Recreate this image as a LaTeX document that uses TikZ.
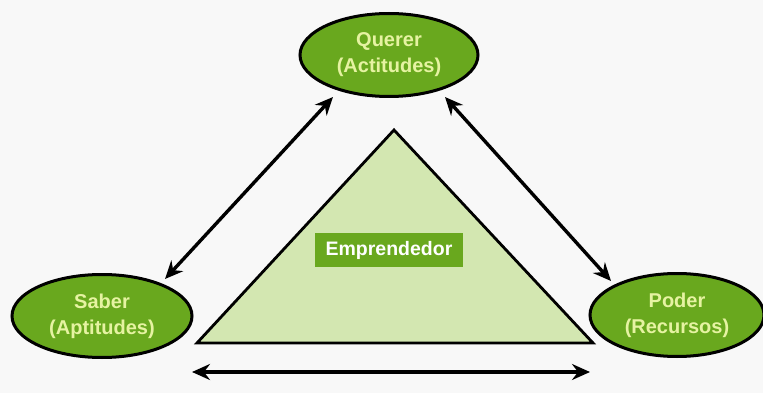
\documentclass[tikz,border=0pt]{standalone}
\usepackage{fontspec}
\setmainfont{Liberation Sans}
\usetikzlibrary{arrows.meta,shapes.geometric}
\definecolor{ellgreen}{HTML}{69A81E}
\definecolor{elltext}{HTML}{E6F3A2}
\definecolor{trifill}{HTML}{D3E7B1}
\definecolor{bg}{HTML}{F8F8F8}
\tikzset{
  x=1pt,y=-1pt,
  ellnode/.style={ellipse,draw=black,line width=3pt,fill=ellgreen,text=elltext,
    minimum width=#1,minimum height=83pt,inner sep=0pt,align=center,
    font=\fontsize{20}{26}\selectfont\bfseries},
  dblarrow/.style={{Stealth[length=18pt,width=16pt,inset=6pt]}-{Stealth[length=18pt,width=16pt,inset=6pt]},line width=3.4pt,black},
  labelbox/.style={fill=ellgreen,text=white,minimum width=148pt,minimum height=34pt,inner sep=0pt,
    font=\fontsize{19.5}{22}\selectfont\bfseries}
}
\begin{document}
\begin{tikzpicture}
\useasboundingbox (0,0) rectangle (763,393);
\fill[bg] (0,0) rectangle (763,393);
% triangle
\coordinate (tA) at (394,130);
\coordinate (tB) at (197,343);
\coordinate (tC) at (593,343);
\draw[fill=trifill,line width=2.8pt,line join=miter] (tA) -- (tB) -- (tC) -- cycle;
\node[labelbox] (emp) at (389,250) {Emprendedor};
% ellipses
\node[ellnode=178pt] (querer) at (389,55) {Querer\\(Actitudes)};
\node[ellnode=180pt] (saber) at (102,316) {Saber\\(Aptitudes)};
\node[ellnode=174pt] (poder) at (677,315) {Poder\\(Recursos)};
% arrow end coordinates
\coordinate (a1) at (165,279);
\coordinate (a2) at (333,97);
\coordinate (b1) at (445,97);
\coordinate (b2) at (611,281);
\coordinate (c1) at (192,372);
\coordinate (c2) at (590,372);
\draw[dblarrow] (a1) -- (a2);
\draw[dblarrow] (b1) -- (b2);
\draw[dblarrow] (c1) -- (c2);
\end{tikzpicture}
\end{document}
